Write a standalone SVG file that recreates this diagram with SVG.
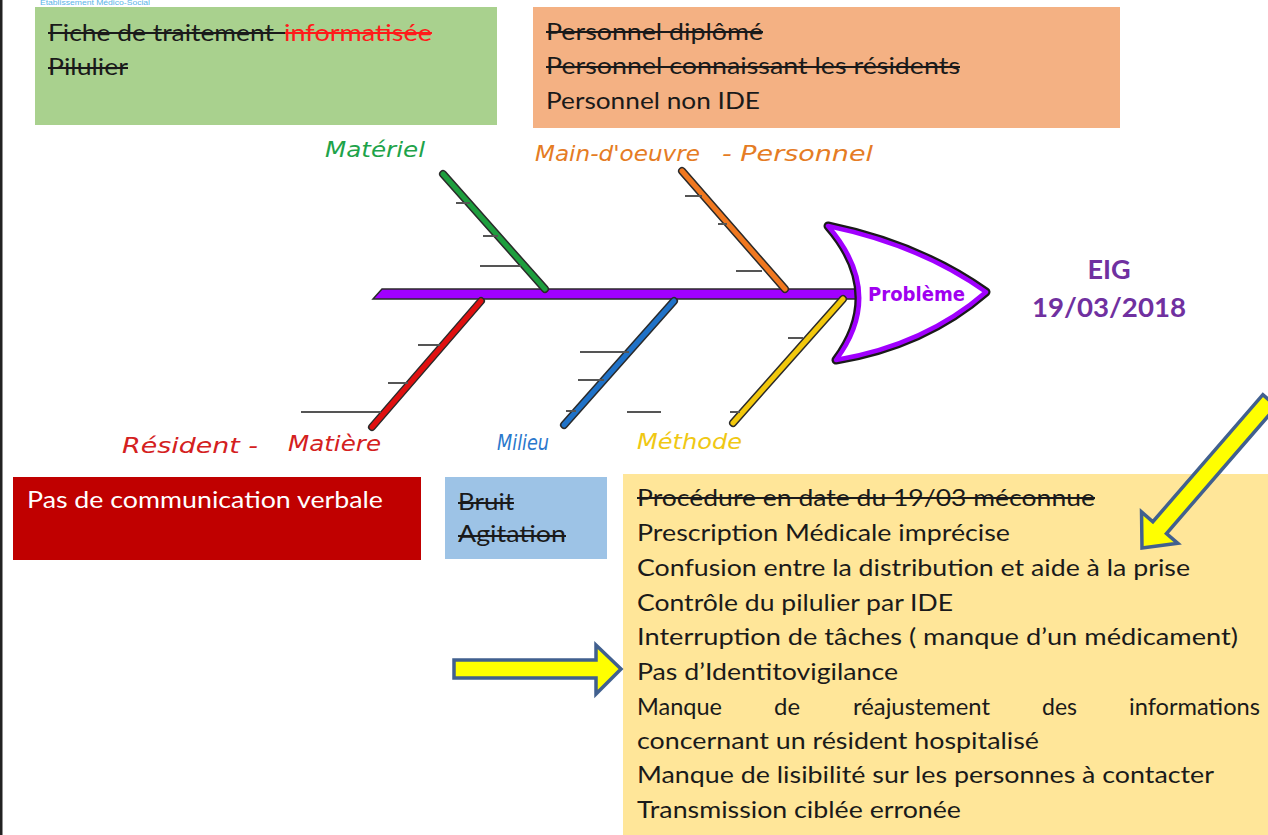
<svg xmlns="http://www.w3.org/2000/svg" width="1268" height="835" viewBox="0 0 1268 835">
<style>
.t{font-family:Lato,"Liberation Sans",sans-serif;font-size:23.5px;fill:#1a1a1a}
.hw{font-family:"DejaVu Sans","Liberation Sans",sans-serif;font-style:italic;font-size:22px}
.st{stroke:#1a1a1a;stroke-width:1.8}
.tick{stroke:#555;stroke-width:2}
.bo{stroke:#2a2a2a;stroke-width:8;stroke-linecap:round}
.bi{stroke-width:5;stroke-linecap:round}
.ar{fill:#ffff00;stroke:#41608f;stroke-width:3.5;stroke-linejoin:miter}
.eig{font-family:Lato,"Liberation Sans",sans-serif;font-weight:bold;font-size:27px;fill:#7030a0;text-anchor:middle}
</style>
<rect x="0" y="0" width="2.5" height="835" fill="#222"/>
<text x="40" y="5" font-family="Liberation Sans,sans-serif" font-size="7" fill="#5ab4e8" textLength="110" lengthAdjust="spacingAndGlyphs">Établissement Médico-Social</text>

<g id="box-materiel">
<rect x="35" y="7" width="462" height="118" fill="#a9d18e"/>
<text class="t" x="48" y="41" textLength="226" lengthAdjust="spacingAndGlyphs">Fiche de traitement</text>
<text class="t" x="284" y="41" style="fill:#ff1a1a" textLength="148" lengthAdjust="spacingAndGlyphs">informatisée</text>
<line class="st" x1="48" y1="33" x2="285" y2="33"/>
<line x1="285" y1="33" x2="432" y2="33" stroke="#ff1a1a" stroke-width="1.8"/>
<text class="t" x="48" y="75" textLength="80" lengthAdjust="spacingAndGlyphs">Pilulier</text>
<line class="st" x1="48" y1="68" x2="128" y2="68"/>
</g>

<g id="box-personnel">
<rect x="533" y="7" width="587" height="121" fill="#f4b183"/>
<text class="t" x="546" y="40" textLength="217" lengthAdjust="spacingAndGlyphs">Personnel diplômé</text>
<line class="st" x1="546" y1="32" x2="763" y2="32"/>
<text class="t" x="546" y="74" textLength="414" lengthAdjust="spacingAndGlyphs">Personnel connaissant les résidents</text>
<line class="st" x1="546" y1="67" x2="960" y2="67"/>
<text class="t" x="546" y="109" textLength="214" lengthAdjust="spacingAndGlyphs">Personnel non IDE</text>
</g>

<g id="connectors">
<polygon points="373,299 382,289 862,289 862,299" fill="#a100ff" stroke="#2a2a2a" stroke-width="1.5"/>
<line class="bo" x1="443" y1="174" x2="545" y2="289"/>
<line class="bi" x1="443" y1="174" x2="545" y2="289" stroke="#1e9e3e"/>
<line class="bo" x1="682" y1="171" x2="785" y2="289"/>
<line class="bi" x1="682" y1="171" x2="785" y2="289" stroke="#f07820"/>
<line class="bo" x1="481" y1="301" x2="372" y2="427"/>
<line class="bi" x1="481" y1="301" x2="372" y2="427" stroke="#e01010"/>
<line class="bo" x1="674" y1="301" x2="564" y2="425"/>
<line class="bi" x1="674" y1="301" x2="564" y2="425" stroke="#1f72c8"/>
<line class="bo" x1="843" y1="299" x2="733" y2="423"/>
<line class="bi" x1="843" y1="299" x2="733" y2="423" stroke="#f2c80c"/>
<line class="tick" x1="456" y1="203" x2="470" y2="203"/>
<line class="tick" x1="483" y1="236" x2="498" y2="236"/>
<line class="tick" x1="480" y1="266" x2="521" y2="266"/>
<line class="tick" x1="685" y1="196" x2="702" y2="196"/>
<line class="tick" x1="718" y1="224" x2="727" y2="224"/>
<line class="tick" x1="736" y1="271" x2="762" y2="271"/>
<line class="tick" x1="418" y1="345" x2="440" y2="345"/>
<line class="tick" x1="388" y1="383" x2="408" y2="383"/>
<line class="tick" x1="301" y1="412" x2="381" y2="412"/>
<line class="tick" x1="580" y1="352" x2="629" y2="352"/>
<line class="tick" x1="578" y1="380" x2="604" y2="380"/>
<line class="tick" x1="566" y1="411" x2="576" y2="411"/>
<line class="tick" x1="627" y1="412" x2="661" y2="412"/>
<line class="tick" x1="788" y1="338" x2="803" y2="338"/>
<line class="tick" x1="730" y1="412" x2="740" y2="412"/>
</g>

<g id="head">
<path d="M828,226 Q920,245 986,292 Q925,345 836,360 Q886,293 828,226 Z" fill="#fff" stroke="#1a1a1a" stroke-width="9" stroke-linejoin="round"/>
<path d="M828,226 Q920,245 986,292 Q925,345 836,360 Q886,293 828,226 Z" fill="#fff" stroke="#a100ff" stroke-width="4.5" stroke-linejoin="round"/>
<text x="868" y="301" font-family="DejaVu Sans,sans-serif" font-weight="bold" font-size="20" fill="#a000f0" textLength="97" lengthAdjust="spacingAndGlyphs">Problème</text>
</g>

<g id="label-materiel"><text class="hw" x="325" y="157" fill="#1ea34a" textLength="100" lengthAdjust="spacingAndGlyphs">Matériel</text></g>
<g id="label-personnel">
<text class="hw" x="535" y="161" fill="#e57c24" textLength="165" lengthAdjust="spacingAndGlyphs">Main-d'oeuvre</text>
<text class="hw" x="722" y="161" fill="#e57c24" textLength="151" lengthAdjust="spacingAndGlyphs">- Personnel</text>
</g>
<g id="label-resident">
<text class="hw" x="122" y="453" fill="#d42020" textLength="136" lengthAdjust="spacingAndGlyphs">Résident -</text>
<text class="hw" x="288" y="451" fill="#d42020" textLength="93" lengthAdjust="spacingAndGlyphs">Matière</text>
</g>
<g id="label-milieu"><text class="hw" x="497" y="450" fill="#2a78cc" textLength="52" lengthAdjust="spacingAndGlyphs">Milieu</text></g>
<g id="label-methode"><text class="hw" x="637" y="449" fill="#f0c814" textLength="105" lengthAdjust="spacingAndGlyphs">Méthode</text></g>

<g id="eig">
<text class="eig" x="1109" y="279">EIG</text>
<text class="eig" x="1109" y="317" textLength="154" lengthAdjust="spacingAndGlyphs">19/03/2018</text>
</g>

<g id="box-resident">
<rect x="13" y="477" width="408" height="83" fill="#c00000"/>
<text class="t" x="27" y="508" style="fill:#fff" textLength="356" lengthAdjust="spacingAndGlyphs">Pas de communication verbale</text>
</g>

<g id="box-milieu">
<rect x="445" y="477" width="162" height="82" fill="#9dc3e6"/>
<text class="t" x="458" y="510" textLength="56" lengthAdjust="spacingAndGlyphs">Bruit</text>
<line class="st" x1="458" y1="503" x2="514" y2="503"/>
<text class="t" x="458" y="542" textLength="108" lengthAdjust="spacingAndGlyphs">Agitation</text>
<line class="st" x1="458" y1="536" x2="566" y2="536"/>
</g>

<g id="box-methode">
<rect x="623" y="474" width="645" height="361" fill="#ffe699"/>
<text class="t" x="637" y="506" textLength="458" lengthAdjust="spacingAndGlyphs">Procédure en date du 19/03 méconnue</text>
<line class="st" x1="637" y1="498" x2="1095" y2="498"/>
<text class="t" x="637" y="541" textLength="373" lengthAdjust="spacingAndGlyphs">Prescription Médicale imprécise</text>
<text class="t" x="637" y="576" textLength="553" lengthAdjust="spacingAndGlyphs">Confusion entre la distribution et aide à la prise</text>
<text class="t" x="637" y="611" textLength="316" lengthAdjust="spacingAndGlyphs">Contrôle du pilulier par IDE</text>
<text class="t" x="637" y="645" textLength="601" lengthAdjust="spacingAndGlyphs">Interruption de tâches ( manque d’un médicament)</text>
<text class="t" x="637" y="680" textLength="261" lengthAdjust="spacingAndGlyphs">Pas d’Identitovigilance</text>
<text class="t" x="637" y="715" textLength="85" lengthAdjust="spacingAndGlyphs">Manque</text>
<text class="t" x="774" y="715" textLength="26" lengthAdjust="spacingAndGlyphs">de</text>
<text class="t" x="853" y="715" textLength="137" lengthAdjust="spacingAndGlyphs">réajustement</text>
<text class="t" x="1042" y="715" textLength="35" lengthAdjust="spacingAndGlyphs">des</text>
<text class="t" x="1129" y="715" textLength="131" lengthAdjust="spacingAndGlyphs">informations</text>
<text class="t" x="637" y="749" textLength="402" lengthAdjust="spacingAndGlyphs">concernant un résident hospitalisé</text>
<text class="t" x="637" y="783" textLength="577" lengthAdjust="spacingAndGlyphs">Manque de lisibilité sur les personnes à contacter</text>
<text class="t" x="637" y="818" textLength="324" lengthAdjust="spacingAndGlyphs">Transmission ciblée erronée</text>
</g>

<g id="arrows">
<polygon class="ar" points="621,669 596,645 596,660 454,660 454,678 596,678 596,694"/>
<polygon class="ar" transform="translate(1142,548) rotate(130.9)" points="0,0 -27,24 -27,9 -195,9 -195,-9 -27,-9 -27,-24"/>
</g>
</svg>
